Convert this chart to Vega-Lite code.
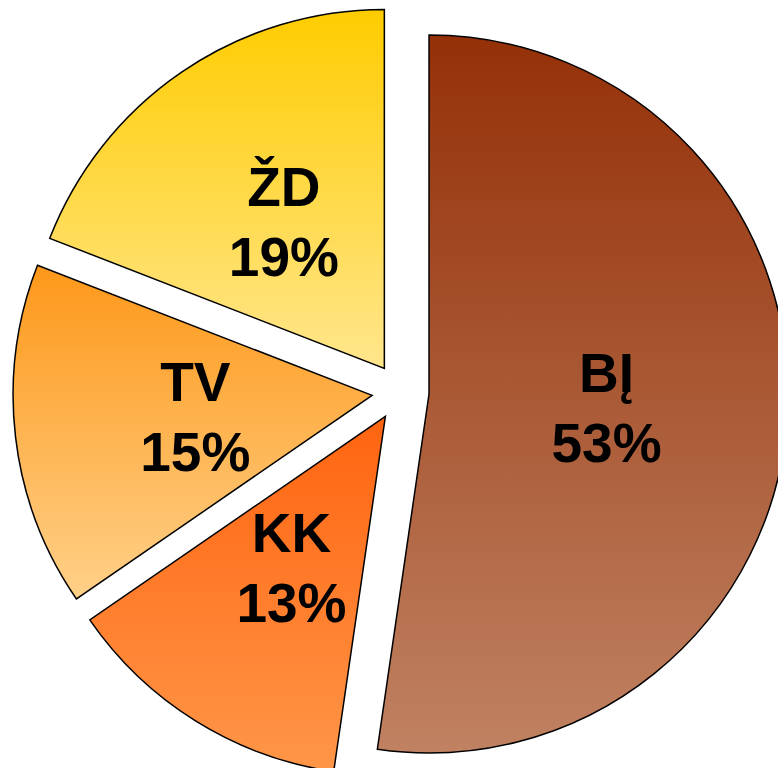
{
  "$schema": "https://vega.github.io/schema/vega-lite/v6.json",
  "width": 778,
  "height": 768,
  "padding": 0,
  "autosize": {"type": "none"},
  "background": "white",
  "config": {"view": {"stroke": null}},
  "data": {"values": [
    {"cat": "BĮ", "share": 52.3, "label": "53%"},
    {"cat": "KK", "share": 13.1, "label": "13%"},
    {"cat": "TV", "share": 15.5, "label": "15%"},
    {"cat": "ŽD", "share": 19.1, "label": "19%"}
  ]},
  "transform": [
    {"window": [{"op": "sum", "field": "share", "as": "end"}], "frame": [null, 0]},
    {"calculate": "datum.end - datum.share", "as": "start"},
    {"calculate": "datum.end - datum.share / 2", "as": "mid"},
    {"calculate": "sin(2 * PI * datum.mid / 100)", "as": "ox"},
    {"calculate": "-cos(2 * PI * datum.mid / 100)", "as": "oy"}
  ],
  "encoding": {
    "x": {"field": "ox", "type": "quantitative", "scale": {"domain": [-1, 1], "range": [371.9, 429.1], "nice": false, "zero": false}, "axis": null},
    "y": {"field": "oy", "type": "quantitative", "scale": {"domain": [-1, 1], "range": [363.4, 420.6], "nice": false, "zero": false}, "axis": null}
  },
  "layer": [
    {
      "transform": [{"filter": "datum.cat === 'BĮ'"}],
      "mark": {"type": "arc", "radius": 359, "stroke": "#000000", "strokeWidth": 1.5,
        "fill": {"gradient": "linear", "x1": 0, "y1": 0, "x2": 0, "y2": 1, "stops": [{"offset": 0, "color": "#943008"}, {"offset": 1, "color": "#c08262"}]}},
      "encoding": {
        "theta": {"field": "start", "type": "quantitative", "stack": null, "scale": {"domain": [0, 100]}},
        "theta2": {"field": "end"}
      }
    },
    {
      "transform": [{"filter": "datum.cat === 'KK'"}],
      "mark": {"type": "arc", "radius": 359, "stroke": "#000000", "strokeWidth": 1.5,
        "fill": {"gradient": "linear", "x1": 0, "y1": 0, "x2": 0, "y2": 1, "stops": [{"offset": 0, "color": "#ff6410"}, {"offset": 1, "color": "#ff9648"}]}},
      "encoding": {
        "theta": {"field": "start", "type": "quantitative", "stack": null, "scale": {"domain": [0, 100]}},
        "theta2": {"field": "end"}
      }
    },
    {
      "transform": [{"filter": "datum.cat === 'TV'"}],
      "mark": {"type": "arc", "radius": 359, "stroke": "#000000", "strokeWidth": 1.5,
        "fill": {"gradient": "linear", "x1": 0, "y1": 0, "x2": 0, "y2": 1, "stops": [{"offset": 0, "color": "#fd981a"}, {"offset": 1, "color": "#ffd088"}]}},
      "encoding": {
        "theta": {"field": "start", "type": "quantitative", "stack": null, "scale": {"domain": [0, 100]}},
        "theta2": {"field": "end"}
      }
    },
    {
      "transform": [{"filter": "datum.cat === 'ŽD'"}],
      "mark": {"type": "arc", "radius": 359, "stroke": "#000000", "strokeWidth": 1.5,
        "fill": {"gradient": "linear", "x1": 0, "y1": 0, "x2": 0, "y2": 1, "stops": [{"offset": 0, "color": "#ffcc00"}, {"offset": 1, "color": "#ffe68c"}]}},
      "encoding": {
        "theta": {"field": "start", "type": "quantitative", "stack": null, "scale": {"domain": [0, 100]}},
        "theta2": {"field": "end"}
      }
    },
    {
      "mark": {"type": "text", "radius": 178, "font": "Liberation Sans", "fontWeight": "bold", "fontSize": 55, "baseline": "alphabetic", "align": "center", "dy": -15, "color": "#000000"},
      "encoding": {
        "theta": {"field": "mid", "type": "quantitative", "stack": null, "scale": {"domain": [0, 100]}},
        "text": {"field": "cat"}
      }
    },
    {
      "mark": {"type": "text", "radius": 178, "font": "Liberation Sans", "fontWeight": "bold", "fontSize": 55, "baseline": "alphabetic", "align": "center", "dy": 55, "color": "#000000"},
      "encoding": {
        "theta": {"field": "mid", "type": "quantitative", "stack": null, "scale": {"domain": [0, 100]}},
        "text": {"field": "label"}
      }
    }
  ]
}
